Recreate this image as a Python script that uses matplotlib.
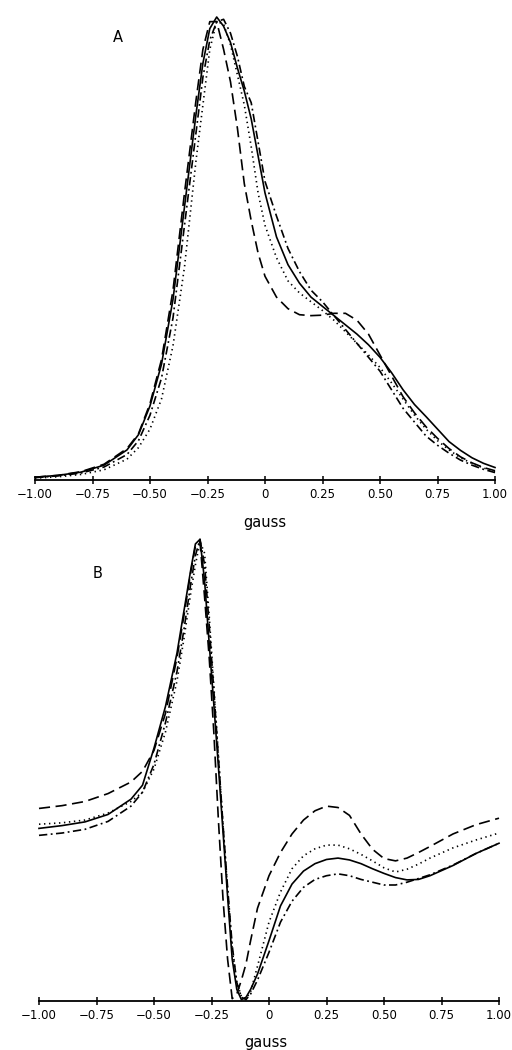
import matplotlib
matplotlib.use("Agg")
import matplotlib.pyplot as plt

plt.rcParams['font.family'] = ['DejaVu Sans']
plt.rcParams['lines.scale_dashes'] = False

# ---- panel A: absorption-like lines (normalised to peak = 1) ----
xa = [-1.0, -0.9, -0.8, -0.7, -0.6, -0.55, -0.5, -0.45, -0.4, -0.35, -0.3,
      -0.27, -0.24, -0.21, -0.18, -0.15, -0.12, -0.09, -0.06, -0.03,
      0.0, 0.05, 0.1, 0.15, 0.2, 0.25, 0.3, 0.35, 0.4, 0.45, 0.5,
      0.55, 0.6, 0.65, 0.7, 0.75, 0.8, 0.85, 0.9, 0.95, 1.0]

a_solid = [0.006, 0.010, 0.017, 0.032, 0.065, 0.098, 0.16, 0.25, 0.39, 0.59, 0.79,
           0.90, 0.975, 1.0, 0.98, 0.945, 0.89, 0.84, 0.78, 0.70,
           0.62, 0.525, 0.465, 0.425, 0.395, 0.375, 0.355, 0.335, 0.315, 0.292, 0.265,
           0.232, 0.195, 0.163, 0.137, 0.11, 0.083, 0.064, 0.048, 0.036, 0.027]
a_dashed = [0.006, 0.010, 0.018, 0.034, 0.068, 0.10, 0.165, 0.26, 0.41, 0.62, 0.82,
            0.93, 0.99, 0.99, 0.93, 0.86, 0.76, 0.64, 0.56, 0.49,
            0.44, 0.395, 0.37, 0.357, 0.355, 0.356, 0.36, 0.36, 0.345, 0.315, 0.27,
            0.225, 0.18, 0.145, 0.115, 0.09, 0.068, 0.05, 0.037, 0.027, 0.02]
a_dotted = [0.004, 0.007, 0.012, 0.022, 0.045, 0.07, 0.11, 0.175, 0.29, 0.46, 0.69,
            0.81, 0.93, 0.99, 0.985, 0.94, 0.875, 0.81, 0.72, 0.62,
            0.55, 0.48, 0.43, 0.404, 0.385, 0.366, 0.345, 0.32, 0.295, 0.27, 0.243,
            0.21, 0.175, 0.14, 0.11, 0.085, 0.065, 0.048, 0.036, 0.026, 0.018]
a_dashdot = [0.005, 0.009, 0.015, 0.028, 0.055, 0.085, 0.14, 0.22, 0.35, 0.55, 0.75,
             0.87, 0.95, 0.99, 0.995, 0.965, 0.915, 0.85, 0.815, 0.73,
             0.645, 0.57, 0.50, 0.45, 0.41, 0.385, 0.355, 0.325, 0.295, 0.265, 0.235,
             0.195, 0.155, 0.125, 0.095, 0.075, 0.058, 0.043, 0.032, 0.023, 0.016]

# ---- panel B: derivative-like lines ----
xb = [-1.0, -0.9, -0.8, -0.7, -0.6, -0.55, -0.5, -0.45, -0.4, -0.37, -0.34,
      -0.32, -0.30, -0.28, -0.26, -0.24, -0.22, -0.20, -0.18, -0.16, -0.14,
      -0.12, -0.10, -0.08, -0.05,
      0.0, 0.05, 0.1, 0.15, 0.2, 0.25, 0.3, 0.35, 0.4, 0.45, 0.5, 0.55, 0.6,
      0.65, 0.7, 0.8, 0.9, 1.0]

b_solid = [0.372, 0.378, 0.386, 0.402, 0.435, 0.465, 0.545, 0.635, 0.75, 0.84, 0.93,
           0.985, 0.995, 0.905, 0.77, 0.64, 0.505, 0.365, 0.225, 0.09, 0.025,
           0.003, 0.008, 0.025, 0.058,
           0.13, 0.205, 0.252, 0.28, 0.296, 0.305, 0.308, 0.304, 0.296, 0.285, 0.275,
           0.266, 0.261, 0.262, 0.27, 0.292, 0.318, 0.34]
b_dashed = [0.415, 0.421, 0.43, 0.447, 0.472, 0.495, 0.54, 0.62, 0.74, 0.83, 0.925,
            0.98, 0.99, 0.87, 0.74, 0.58, 0.39, 0.22, 0.09, 0.005, 0.015,
            0.045, 0.08, 0.13, 0.2,
            0.27, 0.32, 0.36, 0.39, 0.41, 0.42, 0.417, 0.40, 0.36, 0.327, 0.307,
            0.302, 0.308, 0.32, 0.333, 0.36, 0.38, 0.394]
b_dotted = [0.381, 0.384, 0.39, 0.405, 0.43, 0.45, 0.50, 0.58, 0.69, 0.78, 0.88,
            0.94, 0.99, 0.965, 0.83, 0.68, 0.53, 0.38, 0.24, 0.11, 0.04,
            0.01, 0.005, 0.02, 0.075,
            0.17, 0.235, 0.285, 0.313, 0.328, 0.336, 0.336, 0.328, 0.316, 0.302, 0.287,
            0.278, 0.284, 0.295, 0.308, 0.33, 0.347, 0.362]
b_dashdot = [0.357, 0.362, 0.37, 0.387, 0.42, 0.45, 0.51, 0.60, 0.71, 0.80, 0.90,
             0.96, 0.995, 0.94, 0.81, 0.67, 0.525, 0.38, 0.245, 0.12, 0.04,
             0.008, 0.003, 0.015, 0.045,
             0.105, 0.17, 0.215, 0.245, 0.262, 0.27, 0.274, 0.27, 0.262, 0.256, 0.25,
             0.25, 0.256, 0.264, 0.272, 0.293, 0.318, 0.34]

ticks = [-1.0, -0.75, -0.5, -0.25, 0.0, 0.25, 0.5, 0.75, 1.0]
tick_labels = ['\u22121.00', '\u22120.75', '\u22120.50', '\u22120.25', '0',
               '0.25', '0.50', '0.75', '1.00']

styles = {
    'solid': '-',
    'dashed': (0, (8, 4)),
    'dotted': (0, (1, 2.6)),
    'dashdot': (0, (6, 2.5, 1.3, 2.5)),
}

W, H = 512, 1050
fig = plt.figure(figsize=(W / 100, H / 100), dpi=100)

# axes placed in pixel terms: (left, right, bottom_y, top_y) with y measured from top
def make_axes(left, right, y_base, y_top):
    ax = fig.add_axes([left / W, 1 - y_base / H, (right - left) / W, (y_base - y_top) / H])
    ax.set_xlim(-1, 1)
    ax.set_ylim(0, 1)
    for s in ['top', 'left', 'right']:
        ax.spines[s].set_visible(False)
    ax.spines['bottom'].set_linewidth(1.3)
    ax.set_yticks([])
    ax.set_xticks(ticks)
    ax.set_xticklabels(tick_labels)
    ax.tick_params(axis='x', direction='inout', length=6, width=1.1,
                   labelsize=8.5, pad=3)
    ax.patch.set_alpha(0)
    return ax

axA = make_axes(35, 495, 480, 17)
axB = make_axes(39, 499, 1001, 537)

for ax, x, series in [
    (axA, xa, [(a_solid, 'solid'), (a_dashed, 'dashed'), (a_dotted, 'dotted'), (a_dashdot, 'dashdot')]),
    (axB, xb, [(b_solid, 'solid'), (b_dashed, 'dashed'), (b_dotted, 'dotted'), (b_dashdot, 'dashdot')]),
]:
    for y, name in series:
        ax.plot(x, y, color='black', linestyle=styles[name], linewidth=1.2,
                clip_on=False)

fig.text(118 / W, 1 - 38 / H, 'A', fontsize=10.5, ha='center', va='center')
fig.text(98 / W, 1 - 573 / H, 'B', fontsize=10.5, ha='center', va='center')
fig.text(265 / W, 1 - 522 / H, 'gauss', fontsize=10.5, ha='center', va='center')
fig.text(266 / W, 1 - 1042 / H, 'gauss', fontsize=10.5, ha='center', va='center')

fig.savefig('out.png', dpi=100, facecolor='white')
